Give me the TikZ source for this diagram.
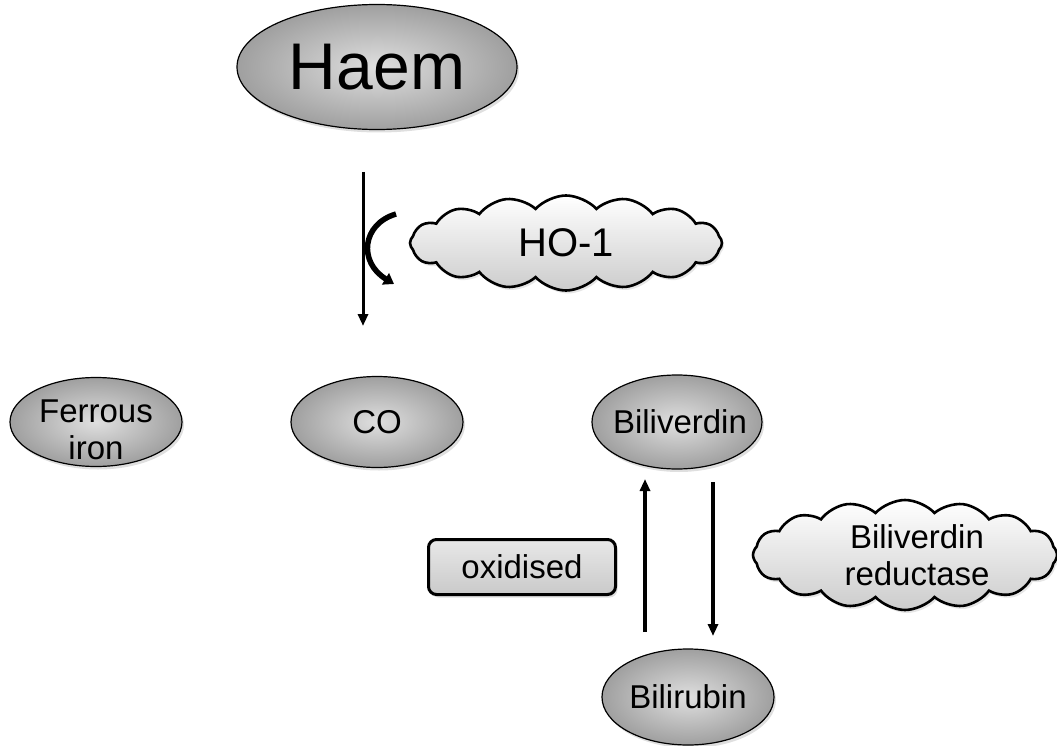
\documentclass[tikz,border=0pt]{standalone}
\usepackage{fontspec}
\setmainfont{Liberation Sans}
\usetikzlibrary{shapes.geometric,shapes.symbols,arrows.meta,shadows}
\begin{document}
\begin{tikzpicture}[x=1pt,y=-1pt,
 every node/.style={font=\fontsize{33}{37}\selectfont},
 blob/.style={ellipse,draw,line width=1.2pt,inner sep=0pt,shading=radial,inner color=gray!25,outer color=gray!75,
   drop shadow={opacity=0.25,shadow xshift=2pt,shadow yshift=-3pt}},
 puff/.style={cloud,draw,line width=2.6pt,cloud puffs=16,cloud puff arc=95,inner sep=0pt,top color=white,bottom color=gray!40,
   drop shadow={opacity=0.2,shadow xshift=2pt,shadow yshift=-3pt}},
 flow/.style={line width=3pt,-{Triangle[width=10pt,length=12pt]}}]
 \useasboundingbox (0,0) rectangle (1057,746);
 % substrates and products
 \node[blob,minimum width=280pt,minimum height=125pt,label={[font=\fontsize{66}{70}\selectfont]center:Haem}] (haem) at (377,67) {};
 \node[blob,minimum width=172pt,minimum height=89pt,label={[align=center,yshift=-8pt]center:Ferrous\\iron}] (fe) at (96,422) {};
 \node[blob,minimum width=172pt,minimum height=91pt,label={center:CO}] (co) at (377,422) {};
 \node[blob,minimum width=170pt,minimum height=94pt,label={[xshift=3pt]center:Biliverdin}] (bv) at (677,422) {};
 \node[blob,minimum width=172pt,minimum height=96pt,label={center:Bilirubin}] (br) at (688,697) {};
 % enzymes
 \node[puff,minimum width=312pt,minimum height=95pt,label={[font=\fontsize{40}{44}\selectfont]center:HO-1}] (ho) at (566,243) {};
 \node[puff,minimum width=304pt,minimum height=110pt,label={[align=center,xshift=12pt]center:Biliverdin\\reductase}] (bvr) at (905,555) {};
 \node[draw,line width=3pt,rounded corners=8pt,minimum width=187pt,minimum height=55pt,top color=gray!18,bottom color=gray!42,
   drop shadow={opacity=0.25,shadow xshift=2pt,shadow yshift=-3pt}] (ox) at (522,567) {oxidised};
 % arrows
 \coordinate (h1) at (363,172); \coordinate (h2) at (363,326);
 \coordinate (c1) at (396,214); \coordinate (c2) at (394,284);
 \coordinate (u1) at (645,632); \coordinate (u2) at (645,479);
 \coordinate (d1) at (713,482); \coordinate (d2) at (713,636);
 \draw[flow] (h1) -- (h2);
 \draw[line width=5.5pt,-{Triangle[width=13pt,length=10pt]}] (c1) .. controls (362,224) and (358,262) .. (c2);
 \draw[flow,line width=3.5pt] (u1) -- (u2);
 \draw[flow,line width=3.5pt] (d1) -- (d2);
\end{tikzpicture}
\end{document}
